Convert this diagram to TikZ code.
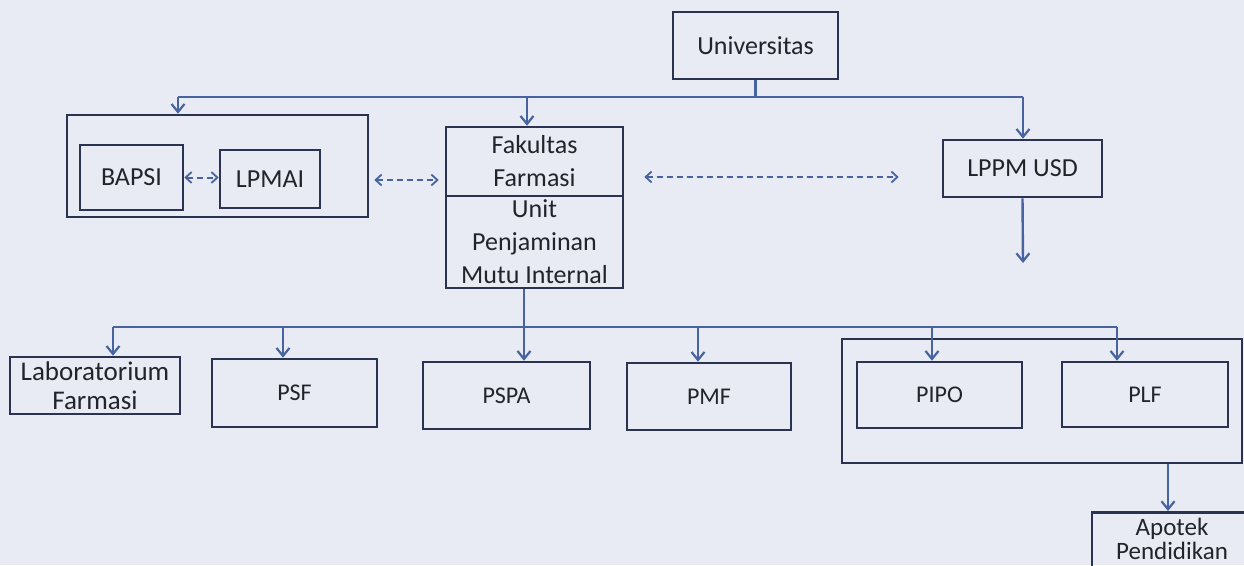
\documentclass[tikz,border=0pt]{standalone}
\usepackage{fontspec}
\setmainfont{Carlito}
\usetikzlibrary{arrows.meta}
\definecolor{paper}{RGB}{232,235,244}
\definecolor{boxc}{RGB}{42,52,80}
\definecolor{linec}{RGB}{72,100,160}
\definecolor{txt}{RGB}{35,35,42}
\tikzset{
  box/.style={draw=boxc, line width=2.6pt, inner sep=0pt, align=center, text=txt,
    font=\fontsize{26}{33}\selectfont},
  pbox/.style={box, font=\fontsize{24}{29}\selectfont},
  conn/.style={draw=linec, line width=2.4pt},
  arr/.style={conn, -{Straight Barb[length=8pt,width=13pt,line width=2.2pt]}},
  darr/.style={draw=linec, line width=2pt, dash pattern=on 6pt off 4pt,
    {Straight Barb[length=6pt,width=11pt,line width=1.8pt]}-{Straight Barb[length=6pt,width=11pt,line width=1.8pt]}}
}
\begin{document}
\begin{tikzpicture}[x=1pt,y=-1pt]
\fill[paper] (0,0) rectangle (1244,565);
\useasboundingbox (0,0) rectangle (1244,565);
\clip (0,0) rectangle (1244,565);
% top level
\node[box, minimum width=165pt, minimum height=67pt] (univ) at (755.5,45.5) {Universitas};
\node[box, minimum width=301pt, minimum height=102pt] (lout) at (217.5,166) {};
\node[box, minimum width=103pt, minimum height=65pt] (bapsi) at (131.5,177.5) {BAPSI};
\node[box, minimum width=100pt, minimum height=58pt] (lpmai) at (270,179) {LPMAI};
\node[box, minimum width=177pt, minimum height=69pt] (fak) at (534.5,161.5) {Fakultas\\Farmasi};
\node[box, minimum width=177pt, minimum height=92pt] (upmi) at (534.5,242) {Unit\\Penjaminan\\Mutu Internal};
\node[box, minimum width=159pt, minimum height=57pt] (lppm) at (1022.5,168.5) {LPPM USD};
% bottom level
\node[box, minimum width=400pt, minimum height=124pt] (rout) at (1042,401) {};
\node[box, minimum width=170pt, minimum height=57pt, font=\fontsize{27}{29}\selectfont] (lab) at (95,385.5) {Laboratorium\\Farmasi};
\node[pbox, minimum width=165pt, minimum height=68pt] (psf) at (294.5,393) {PSF};
\node[pbox, minimum width=167pt, minimum height=67pt] (pspa) at (506.5,395.5) {PSPA};
\node[pbox, minimum width=164pt, minimum height=67pt] (pmf) at (709,396.5) {PMF};
\node[pbox, minimum width=165pt, minimum height=66pt] (pipo) at (939.5,395) {PIPO};
\node[pbox, minimum width=166pt, minimum height=65pt] (plf) at (1145,394.5) {PLF};
\node[box, anchor=north, minimum width=160pt, inner xsep=0pt, inner ysep=6pt, font=\fontsize{25}{24}\selectfont] (apotek) at (1172,511) {Apotek\\Pendidikan\\[2pt]};
% top connectors
\coordinate (tL) at (178,97);
\coordinate (tF) at (527,97);
\coordinate (tR) at (1023,97);
\draw[conn] (univ.south) -- (univ.south |- tL);
\draw[conn] (tL) -- (tR);
\draw[arr] (tL) -- (tL |- lout.north);
\draw[arr] (tF) -- (tF |- fak.north);
\draw[arr] (tR) -- (tR |- lppm.north);
\coordinate (lppmend) at (1023,263);
\draw[arr] (lppm.south) -- (lppmend);
% dashed links
\draw[darr] (bapsi.east) -- (lpmai.west |- bapsi.east);
\draw[darr, shorten <=5pt, shorten >=6pt] (lout.east |- 0,180) -- (fak.west |- 0,180);
\draw[darr, shorten <=20pt, shorten >=43pt] (fak.east |- 0,177) -- (lppm.west |- 0,177);
% bottom connectors
\coordinate (bL) at (113,327);
\coordinate (bS) at (283,327);
\coordinate (bT) at (524,327);
\coordinate (bM) at (698,327);
\coordinate (bP) at (932,327);
\coordinate (bR) at (1117,327);
\draw[conn] (bT |- upmi.south) -- (bT);
\draw[conn] (bL) -- (bR);
\draw[arr] (bL) -- (bL |- lab.north);
\draw[arr] (bS) -- (bS |- psf.north);
\draw[arr] (bT) -- (bT |- pspa.north);
\draw[arr] (bM) -- (bM |- pmf.north);
\draw[arr] (bP) -- (bP |- pipo.north);
\draw[arr] (bR) -- (bR |- plf.north);
\coordinate (ap) at (1168,463);
\draw[arr] (rout.south -| ap) -- (ap |- apotek.north);
\end{tikzpicture}
\end{document}
